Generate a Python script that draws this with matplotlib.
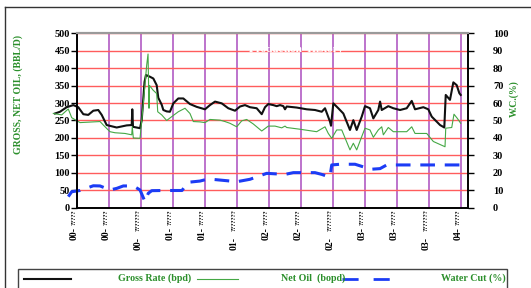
"""Well production history: gross rate, net oil and water cut (2000-2004)."""

import matplotlib
matplotlib.use("Agg")
import matplotlib.pyplot as plt
from matplotlib.lines import Line2D
from matplotlib.patches import Rectangle

# months since Jan-2000
gross_month = [
    -2.75, -2.12, -1.29, -0.46, 0.16, 0.79, 1.41, 2.04, 2.66, 3.09, 3.71, 4.96,
    6.21, 6.84, 6.91, 7.0, 7.88, 8.09, 8.44, 8.62, 9.12, 9.54, 9.96, 10.16,
    10.59, 10.79, 11.21, 11.62, 12.04, 12.66, 13.29, 14.12, 14.96, 16.0, 16.62,
    17.25, 18.09, 18.91, 19.75, 20.38, 21.0, 21.62, 22.46, 23.09, 23.5, 23.91,
    24.54, 24.96, 25.38, 25.79, 26.0, 26.21, 27.46, 28.71, 29.75, 30.59, 31.0,
    31.62, 31.75, 32.04, 32.66, 33.29, 34.12, 34.54, 34.96, 35.59, 36.0, 36.62,
    37.04, 37.66, 37.88, 38.09, 38.91, 39.54, 40.38, 41.21, 41.84, 42.25,
    43.29, 43.91, 44.34, 45.38, 45.91, 46.09, 46.62, 47.04, 47.46, 47.79, 47.96,
]
gross_rate = [
    270, 275, 288, 294, 288, 268, 266, 278, 280, 266, 237, 230,
    236, 237, 282, 232, 228, 251, 360, 380, 375, 370, 351, 315,
    295, 280, 276, 275, 299, 313, 313, 297, 289, 282, 294,
    304, 299, 285, 278, 290, 294, 288, 285, 268, 288, 297,
    294, 291, 294, 291, 282, 290, 287, 282, 280, 275, 285,
    247, 235, 299, 285, 270, 223, 251, 223, 261, 291, 285,
    256, 280, 304, 280, 291, 285, 280, 285, 306, 282,
    288, 282, 261, 237, 230, 323, 309, 359, 351, 328, 323,
]

net_month = [
    -2.96, -1.91, -1.09, -0.66, 0.38, 2.88, 3.29, 4.12, 4.75, 6.0, 6.84, 6.91,
    7.04, 7.88, 8.29, 8.71, 8.88, 9.0, 9.06, 9.5, 9.96, 10.09, 10.59, 11.21,
    11.84, 12.66, 13.5, 14.12, 14.54, 15.38, 16.0, 16.62, 17.88, 18.5, 19.12,
    19.96, 20.59, 21.21, 22.04, 23.09, 23.91, 24.75, 25.59, 26.0, 26.21, 27.88,
    29.96, 31.0, 31.41, 31.84, 32.46, 33.09, 34.12, 34.54, 34.96, 35.59, 36.0,
    36.62, 37.04, 37.66, 38.09, 38.29, 38.91, 39.54, 41.21, 41.84, 42.25,
    43.71, 44.54, 46.0, 46.09, 46.84, 47.12, 47.54, 47.96,
]
net_oil = [
    270, 266, 283, 258, 244, 247, 237, 218, 215, 213, 209, 232,
    200, 199, 299, 408, 440, 285, 350, 337, 327, 275, 266, 250,
    261, 275, 285, 270, 247, 246, 244, 253, 251, 247, 242,
    232, 249, 253, 240, 220, 234, 234, 229, 234, 230, 225,
    218, 232, 213, 199, 223, 223, 166, 185, 166, 204, 228,
    223, 202, 223, 232, 209, 230, 218, 218, 232, 213,
    213, 190, 175, 228, 230, 268, 256, 242,
]

wc_month = [
    -1.09, -0.66, 0.38, 2.04, 2.88, 4.12, 4.96, 5.79, 7.04, 7.88, 8.5, 8.91,
    9.34, 10.75, 13.12, 13.91, 15.38, 16.41, 18.71, 19.96, 21.62, 23.71, 26.0,
    27.04, 29.75, 30.59, 31.41, 31.62, 31.84, 32.88, 34.75, 36.0, 36.62, 37.88,
    38.71, 42.04, 47.88,
]
water_cut = [
    6.5, 9.3, 10, 12.7, 12.6, 10.3, 11.2, 12.6, 12.6, 10.3, 3.6, 8.4,
    9.9, 10, 10, 14.7, 15.4, 16.6, 15.6, 15, 16.4, 19.8, 19.2,
    20.2, 20.2, 19.2, 17.9, 17.8, 24.6, 25, 25, 23.2, 22.1, 22.5,
    24.6, 24.6, 24.6,
]

tick_month = [0, 4, 8, 12, 16, 20, 24, 28, 32, 36, 40, 44, 48]
tick_year = ["00-", "00-", "00-", "01-", "01-", "01-", "02-", "02-", "02-",
             "03-", "03-", "03-", "04-"]

legend_labels = ["Gross Rate (bpd)", "Net Oil  (bopd)", "Water Cut (%)"]

GREEN_TXT = "#2b8f2b"
SERIF = "Liberation Serif"

fig = plt.figure(figsize=(5.31, 2.88), dpi=100)
fig.patch.set_facecolor("white")
ax = fig.add_axes([0.1450, 0.2778, 0.7364, 0.6076])
ax2 = ax.twinx()

ax.set_xlim(0, 48.875)
ax.set_ylim(0, 500)
ax2.set_ylim(0, 100)

ax.set_yticks(range(0, 501, 50))
ax2.set_yticks(range(0, 101, 10))
ax.set_xticks(tick_month)
ax.set_xticklabels([])
ax.tick_params(axis="x", length=0)
ax.tick_params(axis="y", length=4, width=1, pad=1, labelsize=7.5)
ax2.tick_params(axis="y", length=4, width=1, pad=14, labelsize=7.5)
for lab in ax.get_yticklabels() + ax2.get_yticklabels():
    lab.set_fontfamily(SERIF)
    lab.set_fontweight("bold")

ax.set_axisbelow(True)
ax.grid(axis="y", color="#ff5c5c", lw=1.0)
ax.grid(axis="x", color="#b868c8", lw=1.3)

for a in (ax, ax2):
    for side in ("left", "right", "bottom"):
        a.spines[side].set_color("black")
        a.spines[side].set_linewidth(1.2)
    a.spines["top"].set_color("#9a9a9a")
    a.spines["top"].set_linewidth(1.5)

ax.plot(gross_month, gross_rate, color="#111111", lw=1.5, clip_on=False)
ax.plot(net_month, net_oil, color="#45a845", lw=0.8, clip_on=False)
ax2.plot(wc_month, water_cut, color="#1c3cf5", lw=2.2, ls=(0, (4.8, 3.2)),
         clip_on=False)

# white (hidden) chart title sitting on the 450 gridline
ax.text(0.56, 0.905, "Production  History", transform=ax.transAxes,
        ha="center", va="center", color="white", fontsize=8,
        fontweight="bold", family=SERIF)

# date labels: unreadable month glyphs under the axis, year below them
for i, (m, yr) in enumerate(zip(tick_month, tick_year)):
    low = i % 3 == 2
    ax.annotate("???????" if low else "?????", (m, 0),
                xycoords=("data", "axes fraction"), xytext=(-2, -1),
                textcoords="offset points", rotation=90, ha="center",
                va="top", fontsize=4.4, family=SERIF, fontweight="bold")
    ax.annotate(yr, (m, 0), xycoords=("data", "axes fraction"),
                xytext=(-2, -21 if low else -14), textcoords="offset points",
                rotation=90, ha="center", va="top", fontsize=7,
                family=SERIF, fontweight="bold")

fig.text(18 / 531, 1 - 95 / 288, "GROSS, NET OIL, (BBL/D)", rotation=90,
         ha="center", va="center", color=GREEN_TXT, fontsize=7,
         fontweight="bold", family=SERIF)
fig.text(514 / 531, 1 - 99 / 288, "W.C.(%)", rotation=90, ha="center",
         va="center", color=GREEN_TXT, fontsize=7, fontweight="bold",
         family=SERIF)

# outer frame (top and left edges only are in view)
fig.add_artist(Line2D([5 / 531, 5 / 531], [0, 281 / 288], color="#333333",
                      lw=1.0, transform=fig.transFigure))
fig.add_artist(Line2D([5 / 531, 1], [281 / 288, 281 / 288], color="#333333",
                      lw=1.0, transform=fig.transFigure))

# hand-drawn legend box
fig.add_artist(Rectangle((18 / 531, -0.02), (507 - 18) / 531, 0.02 + 19 / 288,
                         transform=fig.transFigure, fill=False,
                         edgecolor="#444444", lw=1.0))
ly = 1 - 279 / 288
fig.add_artist(Line2D([24 / 531, 71 / 531], [ly, ly], color="#111111",
                      lw=1.5, transform=fig.transFigure))
fig.add_artist(Line2D([197 / 531, 238 / 531], [ly, ly], color="#45a845",
                      lw=0.8, transform=fig.transFigure))
fig.add_artist(Line2D([342 / 531, 396 / 531], [ly, ly], color="#1c3cf5",
                      lw=2.0, ls=(0, (5.8, 5.4)), transform=fig.transFigure))
for x0, label in zip([118, 281, 441], legend_labels):
    fig.text(x0 / 531, ly + 0.004, label, ha="left", va="center",
             color=GREEN_TXT, fontsize=7.2, fontweight="bold", family=SERIF)

fig.savefig("out.png", dpi=100)
